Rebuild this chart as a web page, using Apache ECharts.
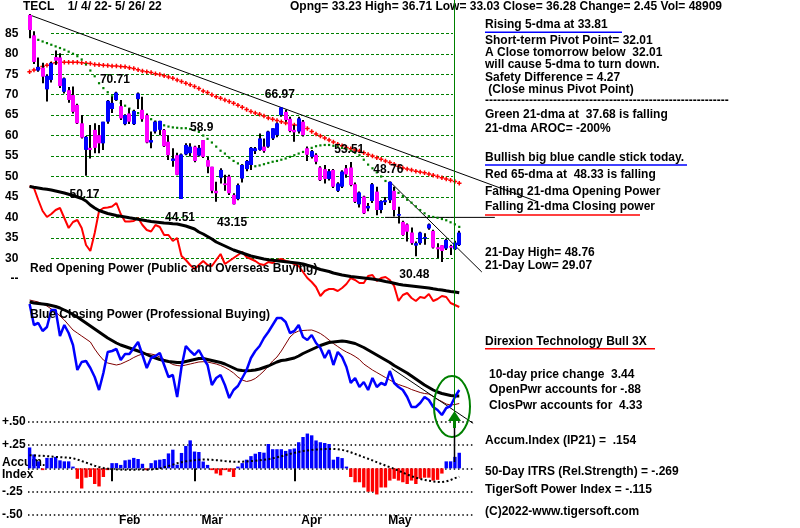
<!DOCTYPE html>
<html><head><meta charset="utf-8">
<script src="https://cdn.jsdelivr.net/npm/echarts/dist/echarts.min.js"></script>
<style>html,body{margin:0;padding:0;background:#fff}#c{width:800px;height:528px}</style>
</head><body><div id="c"></div>
<script>
// ---------------- DATA ----------------
const monthNames = ['Jan','Feb','Mar','Apr','May'];
const monthDayCounts = [19,19,23,20,19];
const priceTicks = [25,30,35,40,45,50,55,60,65,70,75,80,85,90];

const opens = [89.5,84.5,75.9,76.6,71.3,73.6,79.2,79.1,70.7,71.1, 69.9,67.5,63.0,56.5,57.0,61.4,60.1,58.1,63.4,66.5, 68.7,67.2,62.8,65.4,62.8,68.9,66.3,65.0,58.3,61.0, 61.4,61.4,58.5,53.8,55.2,44.51,55.4,55.7,57.3,55.1, 58.9,54.0,52.4,46.5,49.7,48.3,50.0,45.5,44.5,49.5, 51.8,52.8,56.2,56.5,57.3,57.3,59.3,60.1,65.0,65.8, 64.1,61.4,61.0,63.4,56.9,54.8,55.3,52.2,51.8,49.4, 51.6,46.5,47.5,52.0,52.2,48.1,43.2,45.1,42.2,44.0, 46.3,41.8,43.7,44.2,46.5,40.6,38.9,38.3,36.3,33.1, 33.7,34.8,37.3,36.7,32.7,33.2,32.4,33.0,32.2,33.23];
const highs = [89.7,85.5,79.1,77.8,75.0,78.0,80.8,80.1,74.2,71.9, 72.0,67.8,65.0,59.9,62.6,63.0,62.6,63.4,68.7,69.5, 70.71,68.7,65.2,66.7,66.3,70.5,69.5,65.4,61.0,63.6, 63.6,61.6,60.1,56.9,55.8,55.6,58.1,58.1,57.5,57.7, 58.9,54.8,52.4,48.7,52.0,50.4,50.4,45.9,48.3,53.0, 54.0,57.2,57.2,60.5,59.3,61.2,61.8,63.2,66.97,66.3, 64.6,62.6,64.6,63.8,57.3,56.5,55.7,52.5,52.8,51.8, 51.8,48.6,51.5,52.8,53.51,48.5,46.3,45.3,43.5,48.4, 47.5,44.2,45.0,48.76,47.5,42.6,39.2,38.5,37.5,34.1, 36.5,36.1,38.5,37.0,33.7,33.2,34.8,33.3,34.3,36.71];
const lows = [83.8,77.5,75.6,72.8,68.3,73.0,77.3,71.6,70.3,68.0, 65.4,62.8,59.3,50.17,54.4,55.7,55.7,56.5,62.9,65.5, 68.5,63.8,62.5,62.8,62.6,66.5,63.4,58.1,56.9,60.5, 60.1,57.2,54.0,52.4,50.3,44.51,55.2,54.9,53.5,54.9, 54.5,50.8,45.9,43.8,48.3,46.5,45.5,43.15,44.2,48.5, 51.3,51.6,55.5,56.3,55.8,57.0,58.9,59.6,64.6,63.4, 60.8,58.5,60.5,59.8,53.8,54.4,53.0,48.9,48.3,49.0, 47.2,46.2,47.2,49.7,47.6,43.5,42.4,40.8,41.5,43.5, 40.5,41.0,43.0,43.5,40.2,38.5,35.5,34.1,33.3,30.48, 33.3,33.3,37.0,32.4,30.0,29.07,32.0,30.8,32.0,33.03];
const closes = [85.8,78.0,76.8,74.4,74.6,77.7,78.3,72.1,74.0,68.7, 65.8,63.0,59.5,59.7,56.5,57.0,58.1,63.4,68.5,68.0, 70.5,64.2,65.0,63.4,66.0,70.3,64.0,58.3,58.9,63.4, 63.6,57.4,55.2,54.4,50.4,55.4,57.7,57.3,53.8,57.0, 54.8,52.4,46.5,45.9,51.6,47.9,45.9,43.2,47.9,52.8, 53.8,57.0,56.9,59.3,56.2,61.0,61.8,63.0,66.9,63.8, 61.1,60.8,64.2,60.1,55.3,56.2,53.6,49.1,49.4,51.3, 47.5,48.3,51.2,50.5,47.9,43.8,46.1,41.0,42.8,48.1, 41.8,44.0,44.2,48.7,41.8,40.8,35.7,36.5,33.7,33.7, 36.3,35.2,38.3,32.6,32.2,31.8,34.5,32.6,33.83,36.28];

const greenMA21 = [null,null,83.4,83.0,82.6,82.2,81.8,81.4,81.0,80.5, 80.0,79.4,78.6,77.4,75.9,74.5,72.8,71.6,70.6,69.6, 68.8,68.0,67.3,66.6,66.0,65.5,65.0,64.5,64.0,63.4, 62.9,62.5,62.2,62.0,61.9,61.8,61.8,61.6,61.3,60.9, 60.0,59.2,58.3,57.3,56.3,55.6,54.6,53.8,53.2,52.7, 52.5,52.4,52.5,52.7,53.0,53.3,53.6,53.8,54.1,54.4, 54.8,55.2,55.6,56.0,56.6,57.0,57.4,57.6,57.7,57.7, 57.5,57.3,57.0,56.7,56.3,55.8,55.2,54.1,52.9,52.0, 51.0,50.0,48.9,47.9,47.0,46.0,45.2,44.3,43.6,42.7, 41.8,41.0,40.3,40.1,39.9,39.6,39.3,38.8,38.3,37.68];
const redMA65 = [75.6,76.0,76.4,76.9,77.2,77.6,77.8,77.9,77.9,77.9, 77.9,77.9,77.8,77.7,77.6,77.4,77.3,77.2,77.1,77.0, 77.0,76.9,76.8,76.6,76.4,76.1,75.8,75.6,75.4,75.1, 74.9,74.6,74.3,74.0,73.6,73.2,72.8,72.4,72.0,71.5, 70.9,70.5,70.0,69.5,69.1,68.7,68.3,67.9,67.4,66.9, 66.4,65.9,65.5,65.2,64.8,64.3,64.0,63.7,63.4,63.1, 62.8,62.6,62.5,62.3,61.7,61.0,60.4,59.9,59.4,58.9, 58.4,57.9,57.5,57.1,56.8,56.5,56.2,55.8,55.4,55.0, 54.6,54.2,53.8,53.4,53.0,52.5,52.1,51.8,51.6,51.3, 51.1,50.9,50.6,50.3,50.0,49.7,49.4,49.1,48.8,48.33];

const peakDays = [20,58,40,74,83,13,35,47,89];
const peakValues = [70.71,66.97,58.9,53.51,48.76,50.17,44.51,43.15,30.48];
const peakIsHigh = [1,1,1,1,1,0,0,0,0];

// Opening power (chart units)
const openPower = [134,132,120,109,103,106,110,112,102,92, 98,100,92,75,69,87,109,112,112.5,113.5, 117,106,98.5,98.5,99,102,95,90,88.5,95, 93,85,85,79,82,64,60,55,51,55, 59,55,54,60,66,56,59,62,65,68, 63,61,59,56,55,58,57,60,61,59, 58,56,54,48,42,38,33,24,29,31, 31,29,32,36,42,40,37,37,44,45, 39,42,43,40,34,19,25,27,22,19, 23,22,26,19,21,24,23,17,15,13];
const openPowerMA = [133.5,132.7,132,131.3,130.7,130,129,128,127,125.8, 124.5,123,121.5,119,115,112,109.5,108,106.5,105.5, 104.5,103.7,103,102.2,101.5,100.7,100,99.2,98.5,98, 97.5,97,96.7,96.3,96,95,94,92.5,91,88, 86,83.5,81,78,76,74,72,70,68.5,67, 65.5,64,63,62,61,60.3,59.7,59.2,58.7,58.2, 57.7,57.2,56.7,56,54.7,53.5,52,50.5,49.5,48.5, 47,46,45,44.3,43.5,43,42.5,42,41.5,41, 40.3,39.5,38.5,37.7,36.7,35.7,35,34.5,34,33.5, 33,32.5,32,31.2,30.5,30,29.2,28.5,28,27.3];

// Closing power (chart units)
const closePower = [126,105,107,99,103,120,120,94,105,97, 85,60,68,69,62,53,40,57,78,79, 81,70,76,76,82,88,75,62,72,74, 77,65,53,55,33,63,84,79,75,80, 72,65,45,52,55,45,32,40,44,52, 60,72,79,84,92,98,105,112,112,108, 97,99,105,93,90,95,87,82,72,80, 65,78,73,63,47,52,43,48,40,52, 43,47,45,59,47,43,40,33,23,23, 27,33,30,23,20,15,22,24,33,40];
const closePowerMA = [128,127,126.5,126,125.5,124.5,123.5,122,120,118, 115.5,113,110,107,104,101,98,95,92,89.5, 87,85,83.5,82,80.5,79,77.5,75.5,73.5,72, 70.5,69.5,68.5,68,67.5,67.5,68.5,69.5,70.5,71.5, 71.5,70.5,69.5,68.5,67.5,66,64,62,60,59.5, 59.3,59.5,60,61,62.5,64,66,68,69.5,70, 71,72,74,76.5,78.5,80.5,82.5,84.5,86,87.5, 88,88.5,89,88.5,87.5,86.5,84.5,82.5,80,77.5, 75,72.5,70,67.5,64.5,62,59.5,57,54,51, 48,45,42.5,40,38,36.5,35.5,34.5,34,34];
const closePowerSignal = [130,129,128,126,124,121,118,114,110,105, 100,97,94,91,88,81,75,70,67,66, 65,66,68,70,72.5,74.5,76,76.5,76,75, 73,70.5,68,65.5,64.5,64,65,66,67,68, 68.3,68,67,66,64.5,62.5,60,57,53,50, 48.5,49.5,51.5,55,59,64,69,73,79,86, 93,97,99,99.5,99.8,100,98.5,96.5,93.5,90, 86.5,83.5,80.5,78,76,73.5,70.5,66,63,60, 57.5,55,52.5,50,47.5,45.5,44,42.5,40.5,39, 37.5,36.5,36,33.5,30.5,28.5,26,25,25.5,26.5];

// Accumulation index
const accumIndex = [0.224,0.149,0.075,-0.019,0.112,0.112,0.123,0.086,0.075,0.075, 0.019,-0.112,-0.216,-0.1,-0.093,-0.168,-0.194,-0.093,-0.019,0.056, 0.056,0.037,0.086,0.093,0.112,0.1,0.049,-0.019,0.056,0.086, 0.093,0.1,0.16,0.2,0.04,0.165,0.24,0.3,0.18,0.175, 0.073,0.037,-0.019,-0.056,-0.075,-0.019,-0.037,-0.093,0.019,0.056, 0.093,0.131,0.157,0.175,0.168,0.261,0.205,0.205,0.205,0.187, 0.205,0.213,0.28,0.336,0.373,0.354,0.299,0.28,0.272,0.261, 0.093,0.123,0.11,0.019,-0.093,-0.149,-0.149,-0.205,-0.25,-0.25, -0.28,-0.205,-0.205,-0.131,-0.112,-0.131,-0.149,-0.168,-0.131,-0.168, -0.112,-0.1,-0.1,-0.131,-0.123,-0.056,0.075,0.075,0.123,0.167];
const accumMA = [0.14,0.138,0.136,0.134,0.131,0.127,0.123,0.12,0.117,0.114, 0.108,0.095,0.078,0.062,0.045,0.028,0.015,0.004,-0.003,-0.008, -0.011,-0.013,-0.015,-0.016,-0.015,-0.013,-0.014,-0.015,-0.013,-0.008, 0,0.012,0.025,0.04,0.055,0.066,0.075,0.082,0.088,0.092, 0.094,0.094,0.092,0.088,0.083,0.078,0.074,0.071,0.07,0.071, 0.074,0.078,0.082,0.087,0.092,0.098,0.107,0.118,0.13,0.143, 0.155,0.166,0.176,0.185,0.192,0.198,0.202,0.205,0.207,0.208, 0.208,0.205,0.198,0.187,0.172,0.155,0.138,0.12,0.103,0.085, 0.066,0.048,0.03,0.013,-0.005,-0.025,-0.045,-0.065,-0.085,-0.1, -0.113,-0.124,-0.133,-0.14,-0.145,-0.147,-0.14,-0.125,-0.105,-0.09];
const accumTicks = [-0.5,-0.25,0,0.25,0.5];
const accumTickLabels = ['-.50','-.25','Accum.\nIndex','+.25','+.50'];

// trend lines  [dayFrom, valueFrom, dayTo, valueTo]
const priceTrendLines = [[0,89.5,117.1,43.8],[83,48.76,104.2,26.65],[81.9,40,107.2,40]];
const cpTrendLines = [[83.4,61.7,102.2,6.7]];
const signalDay = 98;

// ---------------- BUILD ----------------
const cats = [];
monthNames.forEach((m, k) => { for (let d = 0; d < monthDayCounts[k]; d++) cats.push(m + '-' + d); });
const monthStartIdx = [];
{ let acc = 0; monthDayCounts.forEach((n, k) => { if (k > 0) monthStartIdx.push(acc); acc += n; }); }

const FONT = "'Liberation Sans', Arial, sans-serif";
const BF = 'bold 12px ' + FONT;
const L = 27.43, W = 434;

const chart = echarts.init(document.getElementById('c'), null, {renderer: 'canvas'});

function renderCandle(params, api) {
  const i = api.value(0);
  const po = api.coord([i, api.value(1)]);
  const pc = api.coord([i, api.value(2)]);
  const pl = api.coord([i, api.value(3)]);
  const ph = api.coord([i, api.value(4)]);
  const up = api.value(2) >= api.value(1);
  const x = Math.round(po[0]);
  const top = Math.min(po[1], pc[1]);
  const hgt = Math.max(Math.abs(po[1] - pc[1]), 1.5);
  return {type: 'group', children: [
    {type: 'line', shape: {x1: x, y1: ph[1], x2: x, y2: pl[1]}, style: {stroke: '#000', lineWidth: 2}},
    {type: 'rect', shape: {x: x - 2, y: top, width: 4, height: hgt}, style: {fill: up ? '#0000ff' : '#ff00ff'}}
  ]};
}
function renderPeak(params, api) {
  const p = api.coord([api.value(0), api.value(1)]);
  const hi = api.value(2) === 1;
  return {type: 'text', x: p[0] - 1.5, y: p[1] + (hi ? -12 : 18.5),
    style: {text: String(peakValues[params.dataIndex]), font: BF, fill: '#000', align: 'center', verticalAlign: 'middle'}};
}
function renderSeg(params, api) {
  const a = api.coord([api.value(0), api.value(1)]);
  const b = api.coord([api.value(2), api.value(3)]);
  return {type: 'line', shape: {x1: a[0], y1: a[1], x2: b[0], y2: b[1]}, style: {stroke: '#000', lineWidth: 1}};
}

const plusSym = 'path://M1,0H2V1H3V2H2V3H1V2H0V1H1Z';
const hiddenCat = (g) => ({type: 'category', gridIndex: g, data: cats, show: false});
const hiddenVal = (g, mn, mx) => ({type: 'value', gridIndex: g, min: mn, max: mx, show: false});

const option = {
  animation: false,
  backgroundColor: '#fff',
  textStyle: {fontFamily: FONT},
  grid: [
    {left: L, top: 12.85, width: W, height: 265.9, containLabel: false, outerBoundsMode: 'none'},
    {left: 51, top: 33.3, width: 402, height: 225, containLabel: false, outerBoundsMode: 'none'},
    {left: L, top: 170, width: W, height: 150, containLabel: false, outerBoundsMode: 'none'},
    {left: L, top: 290, width: W, height: 140, containLabel: false, outerBoundsMode: 'none'},
    {left: L, top: 421.7, width: W, height: 93.3, containLabel: false, outerBoundsMode: 'none'},
    {left: 28, top: 421.7, width: 445, height: 93.3, containLabel: false, outerBoundsMode: 'none'}
  ],
  xAxis: [
    hiddenCat(0),
    hiddenVal(0, -0.5, 99.5),
    hiddenVal(1, 0, 1),
    hiddenCat(2),
    hiddenCat(3),
    {type: 'category', gridIndex: 4, data: cats, position: 'bottom',
      axisLine: {show: false},
      axisTick: {show: true, alignWithLabel: true, length: 13, interval: (i) => monthStartIdx.includes(i), lineStyle: {color: '#000', width: 2}},
      axisLabel: {interval: (i) => monthStartIdx.includes(i), formatter: (v) => v.slice(0, 3), align: 'left', padding: [0, 0, 0, 7], margin: 0,
        color: '#000', fontSize: 12, fontWeight: 'bold', fontFamily: FONT},
      splitLine: {show: false}},
    hiddenVal(5, 0, 1),
    hiddenVal(3, -0.5, 99.5)
  ],
  yAxis: [
    {type: 'value', gridIndex: 0, min: priceTicks[0], max: priceTicks[priceTicks.length - 1], interval: 5,
      axisLine: {show: false}, axisTick: {show: false}, splitLine: {show: false},
      axisLabel: {margin: 9, color: '#000', fontSize: 12, fontWeight: 'bold', fontFamily: FONT,
        formatter: (v) => v === 90 ? '' : (v === 25 ? '--' : String(v))}},
    {type: 'value', gridIndex: 1, min: 30, max: 85, interval: 5,
      axisLine: {show: false}, axisTick: {show: false}, axisLabel: {show: false},
      splitLine: {show: true, lineStyle: {color: '#008000', width: 1, type: [3, 2]}}},
    hiddenVal(2, 0, 150),
    hiddenVal(3, 0, 140),
    hiddenVal(4, -0.5, 0.5),
    {type: 'value', gridIndex: 5, min: -0.5, max: 0.5, interval: 0.25,
      axisLine: {show: false}, axisTick: {show: false},
      splitLine: {show: true, lineStyle: {color: '#000', width: 1.5, type: [1.5, 2.8]}},
      axisLabel: {margin: 26, align: 'left', color: '#000', fontSize: 12, fontWeight: 'bold', fontFamily: FONT, lineHeight: 12,
        formatter: (v) => accumTickLabels[accumTicks.findIndex(t => Math.abs(t - v) < 1e-9)]}}
  ],
  series: [
    // price panel trend lines
    {type: 'custom', xAxisIndex: 1, yAxisIndex: 0, renderItem: renderSeg, data: priceTrendLines, clip: false, z: 3},
    // moving averages
    {type: 'line', xAxisIndex: 0, yAxisIndex: 0, data: redMA65, symbol: plusSym, symbolSize: 4.5, showSymbol: true, showAllSymbol: true,
      itemStyle: {color: '#ff0000'}, lineStyle: {opacity: 0}, z: 4},
    {type: 'line', xAxisIndex: 0, yAxisIndex: 0, data: greenMA21, symbol: 'rect', symbolSize: 2.2, showSymbol: true, showAllSymbol: true,
      itemStyle: {color: '#008000'}, lineStyle: {opacity: 0}, z: 4},
    // candles
    {type: 'custom', xAxisIndex: 0, yAxisIndex: 0, renderItem: renderCandle,
      data: opens.map((o, i) => [i, o, closes[i], lows[i], highs[i]]), z: 5},
    // peak labels
    {type: 'custom', xAxisIndex: 0, yAxisIndex: 0, renderItem: renderPeak,
      data: peakDays.map((d, i) => [d, peakValues[i], peakIsHigh[i]]), z: 6},
    // opening power
    {type: 'line', xAxisIndex: 3, yAxisIndex: 2, data: openPower, symbol: 'none', lineStyle: {color: '#ff0000', width: 2}, z: 3},
    {type: 'line', xAxisIndex: 3, yAxisIndex: 2, data: openPowerMA, symbol: 'none', lineStyle: {color: '#000', width: 3}, z: 3},
    // closing power
    {type: 'line', xAxisIndex: 4, yAxisIndex: 3, data: closePowerSignal, symbol: 'none', lineStyle: {color: '#800000', width: 1}, z: 3},
    {type: 'line', xAxisIndex: 4, yAxisIndex: 3, data: closePowerMA, symbol: 'none', lineStyle: {color: '#000', width: 3}, z: 3},
    {type: 'line', xAxisIndex: 4, yAxisIndex: 3, data: closePower, symbol: 'none', lineStyle: {color: '#0000ff', width: 2.5}, z: 4},
    {type: 'custom', xAxisIndex: 7, yAxisIndex: 3, renderItem: renderSeg, data: cpTrendLines, clip: false, z: 4},
    // accumulation index
    {type: 'bar', xAxisIndex: 5, yAxisIndex: 4, barWidth: 3.4,
      data: accumIndex.map(v => ({value: v, itemStyle: {color: v >= 0 ? '#0000ff' : '#ff0000'}})), z: 3},
    {type: 'line', xAxisIndex: 5, yAxisIndex: 4, data: accumMA, symbol: 'none', lineStyle: {color: '#000', width: 2, type: [2, 2.4]}, z: 4}
  ]
};
chart.setOption(option);

// ---------------- ANNOTATIONS ----------------
const xs = Math.round(chart.convertToPixel({xAxisIndex: 0}, cats[signalDay])) - 0.5;
const cyEll = chart.convertToPixel({yAxisIndex: 3}, 23.5);
const txt = (t, x, y) => ({type: 'text', x: x, y: y, z: 20, style: {text: t, font: BF, fill: '#000', verticalAlign: 'middle', align: 'left'}});
const uline = (x1, x2, y, c) => ({type: 'line', z: 20, shape: {x1: x1, y1: y, x2: x2, y2: y}, style: {stroke: c, lineWidth: 1.5}});
const graphics = [
  txt('TECL    1/ 4/ 22- 5/ 26/ 22', 23, 7),
  txt('Opng= 33.23 High= 36.71 Low= 33.03 Close= 36.28 Change= 2.45 Vol= 48909', 290, 7),
  txt('Red Opening Power (Public and Overseas Buying)', 30, 268.5),
  txt('Blue Closing Power (Professional Buying)', 30, 315),
  txt('Rising 5-dma at 33.81', 485, 25), uline(485, 622, 32.3, '#0000ff'),
  txt('Short-term Pivot Point= 32.01', 485, 41),
  txt('A Close tomorrow below  32.01', 485, 53),
  txt('will cause 5-dma to turn down.', 485, 65),
  txt('Safety Difference = 4.27', 485, 78),
  txt(' (Close minus Pivot Point)', 485, 90),
  txt('-'.repeat(61), 485, 101),
  txt('Green 21-dma at  37.68 is falling', 485, 115),
  txt('21-dma AROC= -200%', 485, 129),
  txt('Bullish big blue candle stick today.', 485, 158), uline(485, 687, 165, '#0000ff'),
  txt('Red 65-dma at  48.33 is falling', 485, 175),
  txt('Falling 21-dma Opening Power', 485, 192),
  txt('Falling 21-dma Closing power', 485, 207), uline(485, 640, 215, '#ff0000'),
  txt('21-Day High= 48.76', 485, 253),
  txt('21-Day Low= 29.07', 485, 266),
  txt('Direxion Technology Bull 3X', 485, 342), uline(485, 655, 348.7, '#ff0000'),
  txt('10-day price change  3.44', 489, 375),
  txt('OpenPwr accounts for -.88', 489, 390),
  txt('ClosPwr accounts for  4.33', 489, 406),
  txt('Accum.Index (IP21) =  .154', 485, 441),
  txt('50-Day ITRS (Rel.Strength) = -.269', 485, 472),
  txt('TigerSoft Power Index = -.115', 485, 490),
  txt('(C)2022-www.tigersoft.com', 485, 512),
  {type: 'line', z: 30, shape: {x1: xs, y1: 0, x2: xs, y2: 417}, style: {stroke: '#008000', lineWidth: 1}},
  {type: 'ellipse', z: 30, shape: {cx: xs - 2.5, cy: cyEll, rx: 18, ry: 30.5}, style: {fill: 'none', stroke: '#008000', lineWidth: 2}},
  {type: 'line', z: 30, shape: {x1: xs, y1: 427, x2: xs, y2: 462}, style: {stroke: '#000', lineWidth: 1.5}},
  {type: 'line', z: 31, shape: {x1: xs, y1: 418, x2: xs, y2: 428}, style: {stroke: '#008000', lineWidth: 3}},
  {type: 'polygon', z: 31, shape: {points: [[xs, 411], [xs - 6.5, 421], [xs + 6.5, 421]]}, style: {fill: '#008000'}}
];
chart.setOption({graphic: {elements: graphics}});
</script></body></html>
